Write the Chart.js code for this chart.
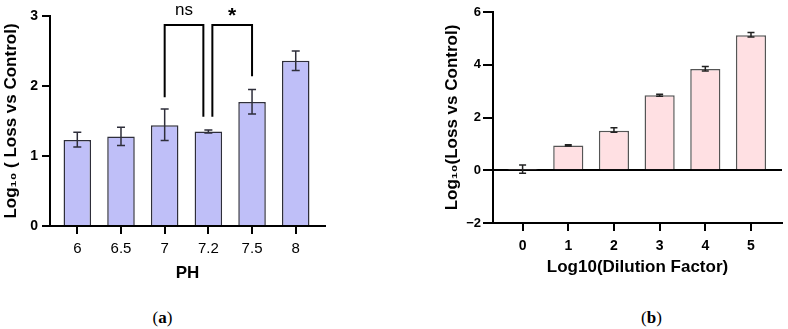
<!DOCTYPE html>
<html><head><meta charset="utf-8">
<script src="https://cdn.jsdelivr.net/npm/chart.js@4.4.1/dist/chart.umd.min.js"></script>
<style>
html,body{margin:0;padding:0;background:#fff;width:788px;height:329px;overflow:hidden;}
.wrap{position:absolute;top:0;width:394px;height:300px;}
#wa{left:0} #wb{left:394px}
.cap{position:absolute;top:308px;font-family:"Liberation Serif","DejaVu Serif",serif;font-size:17px;line-height:20px;color:#000;transform:translateX(-50%);white-space:nowrap;}
</style></head><body>
<div class="wrap" id="wa"><canvas id="ca" width="394" height="300"></canvas></div>
<div class="wrap" id="wb"><canvas id="cb" width="394" height="300"></canvas></div>
<div class="cap" style="left:162.5px">(<b>a</b>)</div>
<div class="cap" style="left:651.5px">(<b>b</b>)</div>
<script>
// ---- Panel (a): pH ----
const phLabels = ['6', '6.5', '7', '7.2', '7.5', '8'];
const phMeans = [1.23, 1.28, 1.44, 1.35, 1.77, 2.36];
const phErrLow = [1.13, 1.15, 1.22, 1.33, 1.60, 2.22];
const phErrHigh = [1.34, 1.41, 1.67, 1.37, 1.95, 2.50];
// significance brackets: category index pairs, label, bracket top, leg end values
const sigPairs = [[2, 3], [3, 4]];
const sigLabels = ['ns', '*'];
const sigTop = [2.87, 2.87];
const sigLegEnds = [[1.84, 1.56], [1.56, 2.14]];
const phTicksY = [0, 1, 2, 3];

// ---- Panel (b): dilution ----
const dilLabels = ['0', '1', '2', '3', '4', '5'];
const dilMeans = [0.02, 0.94, 1.50, 2.84, 3.84, 5.12];
const dilErrLow = [-0.11, 0.92, 1.44, 2.81, 3.76, 5.05];
const dilErrHigh = [0.20, 0.97, 1.61, 2.88, 3.93, 5.22];
const dilTicksY = [-2, 0, 2, 4, 6];

Chart.defaults.font.family = '"Liberation Sans", Arial, "DejaVu Sans", sans-serif';
Chart.defaults.color = '#000';
Chart.defaults.animation = false;

function makeErrorBars(low, high, color, cap, width) {
  return {
    id: 'errorBars',
    afterDatasetsDraw(chart) {
      const ctx = chart.ctx, y = chart.scales.y;
      const meta = chart.getDatasetMeta(0);
      ctx.save();
      ctx.strokeStyle = color; ctx.lineWidth = width; ctx.lineCap = 'butt';
      meta.data.forEach((bar, i) => {
        const x = bar.x;
        const yl = y.getPixelForValue(low[i]);
        const yh = y.getPixelForValue(high[i]);
        ctx.beginPath();
        ctx.moveTo(x, yl); ctx.lineTo(x, yh);
        ctx.moveTo(x - cap, yl); ctx.lineTo(x + cap, yl);
        ctx.moveTo(x - cap, yh); ctx.lineTo(x + cap, yh);
        ctx.stroke();
      });
      ctx.restore();
    }
  };
}

const brackets = {
  id: 'brackets',
  afterDraw(chart) {
    const ctx = chart.ctx, xs = chart.scales.x, ys = chart.scales.y;
    ctx.save();
    ctx.strokeStyle = '#000'; ctx.lineWidth = 2; ctx.lineJoin = 'miter';
    sigPairs.forEach(([a, b], k) => {
      const sharedLeft = k > 0 && sigPairs[k - 1][1] === a;
      const sharedRight = k < sigPairs.length - 1 && sigPairs[k + 1][0] === b;
      const x1 = xs.getPixelForValue(a) + (sharedLeft ? 4 : 0);
      const x2 = xs.getPixelForValue(b) - (sharedRight ? 5 : 0);
      const yt = ys.getPixelForValue(sigTop[k]);
      ctx.beginPath();
      ctx.moveTo(x1, ys.getPixelForValue(sigLegEnds[k][0]));
      ctx.lineTo(x1, yt); ctx.lineTo(x2, yt);
      ctx.lineTo(x2, ys.getPixelForValue(sigLegEnds[k][1]));
      ctx.stroke();
      ctx.fillStyle = '#000'; ctx.textAlign = 'center'; ctx.textBaseline = 'alphabetic';
      const cx = (x1 + x2) / 2;
      if (sigLabels[k] === '*') {
        ctx.font = 'bold 21px "Liberation Sans", Arial, sans-serif';
        ctx.fillText(sigLabels[k], cx, yt - 3);
      } else {
        ctx.font = '17px "Liberation Sans", Arial, sans-serif';
        ctx.fillText(sigLabels[k], cx, yt - 10);
      }
    });
    ctx.restore();
  }
};

const axisLine = { width: 2, color: '#000' };
const tickGrid = { drawOnChartArea: false, tickLength: 8, lineWidth: 2, color: '#000', offset: false };

new Chart(document.getElementById('ca'), {
  type: 'bar',
  data: {
    datasets: [{
      data: phMeans.map((v, i) => ({ x: i, y: v })),
      backgroundColor: '#bfbff8',
      borderColor: '#2e2e3a',
      borderWidth: 1.5,
      categoryPercentage: 1,
      barPercentage: 0.63
    }]
  },
  options: {
    responsive: false,
    devicePixelRatio: 1,
    layout: { padding: { top: 16, right: 69, left: 0, bottom: 0 } },
    plugins: { legend: { display: false }, tooltip: { enabled: false } },
    scales: {
      x: {
        type: 'linear', min: -0.625, max: 5.67, offset: false,
        afterBuildTicks(s) { s.ticks = phLabels.map((_, i) => ({ value: i })); },
        afterFit(s) { s.height = 74; },
        ticks: { callback: (v, i) => phLabels[i], padding: 6, font: { size: 15 }, maxRotation: 0, autoSkip: false },
        grid: tickGrid, border: axisLine,
        title: { display: true, text: 'PH', font: { size: 17, weight: 'bold' }, padding: { top: 0, bottom: 16 } }
      },
      y: {
        min: 0, max: 3,
        afterBuildTicks(s) { s.ticks = phTicksY.map(v => ({ value: v })); },
        afterFit(s) { s.width = 50; },
        ticks: { padding: 4, font: { size: 14, weight: 'bold' } },
        grid: tickGrid, border: axisLine,
        title: { display: true, text: 'Log\u2081\u2080 ( Loss vs Control)', font: { size: 17, weight: 'bold' }, padding: { top: 1, bottom: 0 } }
      }
    }
  },
  plugins: [makeErrorBars(phErrLow, phErrHigh, '#2e2e3a', 4, 1.5), brackets]
});

new Chart(document.getElementById('cb'), {
  type: 'bar',
  data: {
    datasets: [{
      data: dilMeans.map((v, i) => ({ x: i, y: v })),
      backgroundColor: '#ffe0e3',
      borderColor: '#555555',
      borderWidth: 1.5,
      categoryPercentage: 1,
      barPercentage: 0.66
    }]
  },
  options: {
    responsive: false,
    devicePixelRatio: 1,
    layout: { padding: { top: 12, right: 6, left: 0, bottom: 0 } },
    plugins: { legend: { display: false }, tooltip: { enabled: false } },
    scales: {
      x: {
        type: 'linear', min: -0.648, max: 5.679, offset: false,
        afterBuildTicks(s) { s.ticks = dilLabels.map((_, i) => ({ value: i })); },
        afterFit(s) { s.height = 77; },
        ticks: { callback: (v, i) => dilLabels[i], padding: 7, font: { size: 14, weight: 'bold' }, maxRotation: 0, autoSkip: false },
        grid: tickGrid, border: axisLine,
        title: { display: true, text: 'Log10(Dilution Factor)', font: { size: 17, weight: 'bold' }, padding: { top: 0, bottom: 22 } }
      },
      y: {
        min: -2, max: 6,
        afterBuildTicks(s) { s.ticks = dilTicksY.map(v => ({ value: v })); },
        afterFit(s) { s.width = 99; },
        ticks: { padding: 2, font: { size: 13, weight: 'bold' }, callback: v => (v < 0 ? '\u2212' + Math.abs(v) : String(v)) },
        grid: {
          drawOnChartArea: true, tickLength: 10, lineWidth: 2,
          color: c => (c.tick && c.tick.value === 0 ? '#000' : 'rgba(0,0,0,0)'),
          tickColor: '#000'
        },
        border: axisLine,
        title: { display: true, text: 'Log\u2081\u2080(Loss vs Control)', font: { size: 17, weight: 'bold' }, padding: { top: 48, bottom: 0 } }
      }
    }
  },
  plugins: [makeErrorBars(dilErrLow, dilErrHigh, '#222', 3.5, 1.5)]
});
</script>
</body></html>
